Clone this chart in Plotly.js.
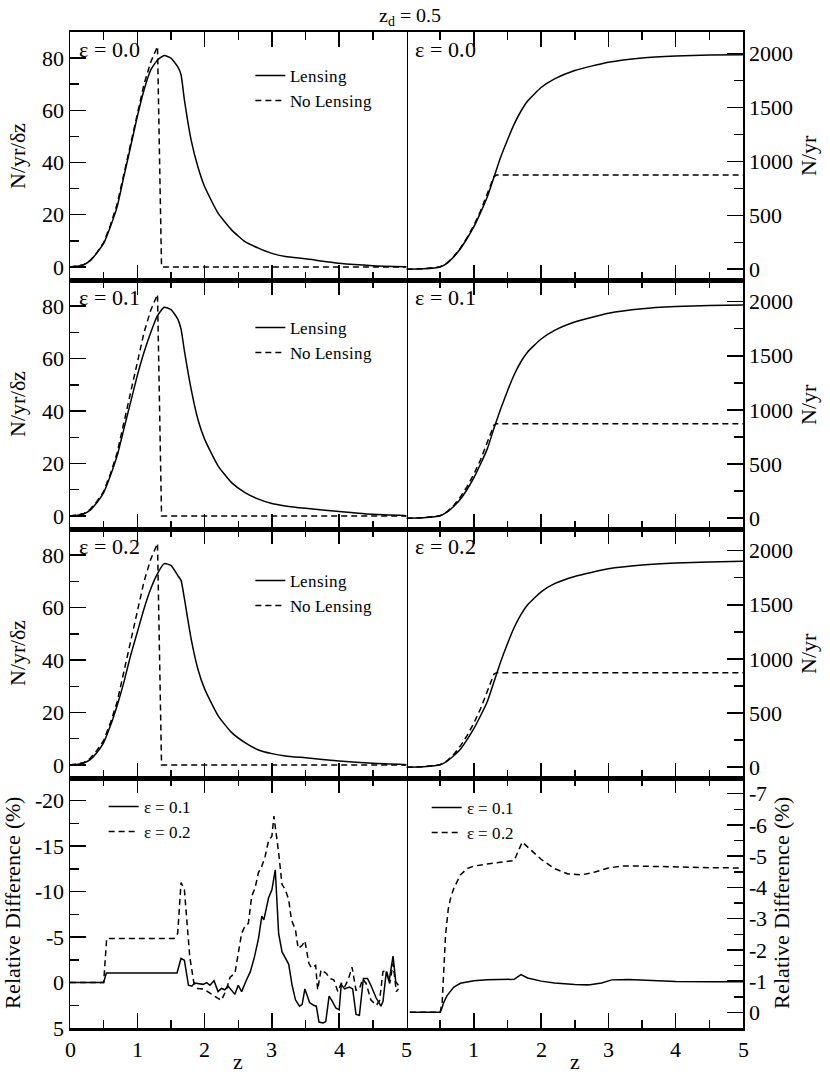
<!DOCTYPE html>
<html>
<head>
<meta charset="utf-8">
<script src="https://cdn.plot.ly/plotly-3.0.1.min.js"></script>
<style>
  @font-face {
    font-family: 'PaperSerif';
    src: local('Liberation Serif'), local('LiberationSerif'), local('LiberationSerif-Regular'), local('DejaVu Serif'), local('DejaVuSerif');
  }
  html, body { margin: 0; padding: 0; background: white; }
  #chart { width: 830px; height: 1074px; }
</style>
</head>
<body>
<div id="chart"></div>
<script>
// differential counts, N/yr/dz
const zDiff = [0, 0.1, 0.2, 0.3, 0.4, 0.5, 0.6, 0.7, 0.8, 0.9, 1.0, 1.1, 1.2, 1.3, 1.4, 1.5, 1.6, 1.65, 1.7, 1.8, 1.9, 2.0, 2.2, 2.4, 2.6, 2.8, 3.0, 3.2, 3.5, 4.0, 4.5, 5.0];
const diffE0 = [0, 0.3, 0.8, 2.4, 5.4, 9, 15.4, 23, 34.6, 46, 57.6, 67.8, 75.5, 79.3, 81, 80, 76.7, 73.6, 64, 48.6, 38.4, 30.8, 20.6, 14.2, 9.7, 7.2, 5.2, 4.0, 3.1, 1.4, 0.5, 0.1];
const diffE1 = [0, 0.2, 0.7, 2.2, 5.1, 8.9, 15.3, 22.9, 33.1, 43.3, 53.5, 62.4, 70, 76.4, 79.6, 78.7, 75.2, 71.3, 63, 48.4, 36.9, 29.3, 19.1, 12.7, 8.9, 6.4, 4.7, 3.8, 2.9, 1.7, 0.6, 0.1];
const diffE2 = [0, 0.2, 0.7, 2.0, 4.7, 8.5, 14.9, 22.6, 31.5, 41.7, 50.6, 59.6, 67.2, 73, 76.8, 76.1, 72.3, 70.4, 63.4, 48.1, 36.6, 29, 18.8, 12.4, 8.5, 5.7, 4.3, 3.4, 2.7, 1.5, 0.6, 0.1];
const zNoDiff = [0, 0.1, 0.2, 0.3, 0.4, 0.5, 0.6, 0.7, 0.8, 0.9, 1.0, 1.1, 1.2, 1.3, 1.36, 5.0];
const noDiff = [0, 0.3, 0.8, 2.5, 5.5, 9.3, 16, 24, 35.5, 47.5, 59.5, 70, 78.5, 84.5, 0, 0];

// cumulative counts, N/yr
const zCum = [0, 0.25, 0.5, 0.6, 0.7, 0.8, 0.9, 1.0, 1.1, 1.2, 1.3, 1.4, 1.5, 1.6, 1.7, 1.8, 2.0, 2.2, 2.5, 3.0, 3.5, 4.0, 4.5, 5.0];
const cumE0 = [0, 4, 21, 55, 114, 190, 285, 392, 525, 670, 855, 1040, 1198, 1345, 1465, 1560, 1685, 1765, 1843, 1920, 1960, 1978, 1987, 1990];
const cumE1 = [0, 4, 22, 55, 108, 175, 265, 372, 500, 640, 830, 1010, 1175, 1325, 1445, 1535, 1655, 1735, 1812, 1893, 1935, 1955, 1965, 1969];
const cumE2 = [0, 4, 22, 54, 105, 165, 255, 355, 475, 605, 790, 975, 1140, 1290, 1410, 1500, 1620, 1695, 1762, 1833, 1868, 1886, 1895, 1901];
const zNoCum = [0, 0.25, 0.5, 0.6, 0.7, 0.8, 0.9, 1.0, 1.1, 1.2, 1.3, 1.34, 5.0];
const noCum = [0, 4, 23, 57, 116, 195, 292, 405, 540, 695, 860, 873, 873];

// relative difference of differential counts (%)
const zRelD1 = [0, 0.5, 0.54, 1.59, 1.65, 1.7, 1.76, 1.81, 1.85, 1.9, 1.98, 2.03, 2.08, 2.14, 2.2, 2.25, 2.3, 2.35, 2.4, 2.45, 2.5, 2.55, 2.62, 2.68, 2.74, 2.8, 2.85, 2.88, 2.95, 3.0, 3.05, 3.1, 3.15, 3.2, 3.25, 3.3, 3.35, 3.41, 3.45, 3.49, 3.56, 3.62, 3.66, 3.7, 3.76, 3.8, 3.85, 3.9, 3.95, 4.0, 4.03, 4.08, 4.15, 4.2, 4.25, 4.3, 4.36, 4.42, 4.47, 4.55, 4.62, 4.65, 4.7, 4.74, 4.8, 4.84, 4.88];
const relD1 = [0, 0, -1.05, -1.05, -2.65, -2.45, 0.3, 0.4, 0.05, 0.1, 0.2, 0, 0.3, -0.2, 1.0, 0.65, 0.8, 0.4, 0.85, 1.3, 0.3, 1.0, -0.25, -1.2, -2.8, -4.8, -7.3, -6.9, -9.3, -10.2, -12.4, -5.4, -3.4, -2.7, -2.0, 0.3, 1.9, 2.6, 2.4, 0.7, 2.2, 2.5, 2.6, 4.35, 4.45, 4.3, 1.5, 2.1, 2.8, 3.0, 0.2, 0.7, 0.5, 0.7, 3.5, 3.6, -0.45, -0.45, 0.3, 1.7, 2.6, 2.1, -1.2, -0.1, -2.9, -0.1, 0.3];
const zRelD2 = [0, 0.5, 0.545, 1.545, 1.6, 1.65, 1.7, 1.75, 1.78, 1.84, 1.9, 1.98, 2.05, 2.13, 2.2, 2.25, 2.32, 2.38, 2.45, 2.5, 2.55, 2.6, 2.65, 2.7, 2.75, 2.8, 2.85, 2.9, 2.95, 3.0, 3.03, 3.1, 3.15, 3.2, 3.25, 3.29, 3.35, 3.39, 3.45, 3.49, 3.55, 3.59, 3.65, 3.68, 3.73, 3.77, 3.81, 3.86, 3.92, 3.98, 4.03, 4.08, 4.14, 4.19, 4.25, 4.3, 4.35, 4.4, 4.47, 4.55, 4.6, 4.65, 4.7, 4.75, 4.8, 4.85, 4.88];
const relD2 = [0, 0, -4.85, -4.85, -5.4, -11.0, -10.2, -5.8, -2.8, 0, 0.65, 0.7, 1.0, 1.4, 1.75, 1.95, 0.85, -0.6, -1.0, -3.4, -5.4, -6.2, -6.5, -9.5, -10.4, -12.1, -12.8, -13.9, -15.6, -16.1, -18.3, -14.3, -10.8, -10.2, -9.1, -6.9, -5.8, -3.75, -4.1, -4.6, -2.1, -1.6, -1.9, 0.8, -1.4, -1.2, -1.0, -0.45, -0.3, 1.0, 0.1, 0.5, -0.45, -1.7, 0.85, 0.7, -0.4, 0.1, 1.9, 2.5, 2.0, -1.2, -1.4, 0.1, -2.1, 1.0, 0.7];

// relative difference of cumulative counts (%)
const zRelC1 = [0.05, 0.5, 0.52, 0.55, 0.6, 0.65, 0.7, 0.8, 0.9, 1.0, 1.2, 1.4, 1.6, 1.7, 1.8, 2.0, 2.2, 2.5, 2.7, 2.9, 3.05, 3.3, 3.5, 4.0, 4.5, 5.0];
const relC1 = [0, 0, -0.1, -0.3, -0.53, -0.68, -0.8, -0.93, -0.98, -1.01, -1.04, -1.05, -1.06, -1.21, -1.1, -1.0, -0.94, -0.89, -0.88, -0.94, -1.04, -1.05, -1.03, -0.99, -0.98, -0.98];
const zRelC2 = [0.05, 0.5, 0.53, 0.55, 0.58, 0.62, 0.66, 0.7, 0.8, 0.9, 1.0, 1.2, 1.4, 1.6, 1.72, 1.8, 2.0, 2.2, 2.4, 2.6, 2.8, 3.0, 3.2, 3.5, 4.0, 4.5, 5.0];
const relC2 = [0, 0, -0.32, -1.2, -2.46, -3.3, -3.7, -3.95, -4.4, -4.6, -4.68, -4.75, -4.8, -4.86, -5.45, -5.3, -4.9, -4.6, -4.43, -4.4, -4.49, -4.62, -4.68, -4.68, -4.65, -4.63, -4.62];

const epsLabels = ['ε = 0.0', 'ε = 0.1', 'ε = 0.2'];

const FONT = 'PaperSerif, Liberation Serif, serif';
const solid = {color: 'black', width: 1.5};
const dashed = {color: 'black', width: 1.5, dash: '6px,4px'};
const smooth = Object.assign({shape: 'spline', smoothing: 0.5}, solid);

function line(x, y, ax, lineStyle, opts) {
  return Object.assign({
    x: x, y: y,
    xaxis: 'x' + (ax > 1 ? ax : ''),
    yaxis: 'y' + (ax > 1 ? ax : ''),
    type: 'scatter', mode: 'lines',
    line: lineStyle,
    showlegend: false,
    hoverinfo: 'skip'
  }, opts || {});
}

const data = [
  line(zDiff, diffE0, 1, smooth, {name: 'Lensing', showlegend: true, legend: 'legend'}),
  line(zNoDiff, noDiff, 1, dashed, {name: 'No Lensing', showlegend: true, legend: 'legend'}),
  line(zCum, cumE0, 2, smooth),
  line(zNoCum, noCum, 2, dashed),

  line(zDiff, diffE1, 3, smooth, {name: 'Lensing', showlegend: true, legend: 'legend2'}),
  line(zNoDiff, noDiff, 3, dashed, {name: 'No Lensing', showlegend: true, legend: 'legend2'}),
  line(zCum, cumE1, 4, smooth),
  line(zNoCum, noCum, 4, dashed),

  line(zDiff, diffE2, 5, smooth, {name: 'Lensing', showlegend: true, legend: 'legend3'}),
  line(zNoDiff, noDiff, 5, dashed, {name: 'No Lensing', showlegend: true, legend: 'legend3'}),
  line(zCum, cumE2, 6, smooth),
  line(zNoCum, noCum, 6, dashed),

  line(zRelD1, relD1, 7, solid, {name: 'ε = 0.1', showlegend: true, legend: 'legend4'}),
  line(zRelD2, relD2, 7, dashed, {name: 'ε = 0.2', showlegend: true, legend: 'legend4'}),
  line(zRelC1, relC1, 8, solid, {name: 'ε = 0.1', showlegend: true, legend: 'legend5'}),
  line(zRelC2, relC2, 8, dashed, {name: 'ε = 0.2', showlegend: true, legend: 'legend5'})
];

const rowDomains = [[0.751, 1], [0.501, 0.751], [0.251, 0.501], [0, 0.251]];
const colDomains = [[0, 0.5], [0.5, 1]];

function xAxis(i) {
  const row = Math.floor((i - 1) / 2);
  const col = (i - 1) % 2;
  const bottom = row === 3;
  const ax = {
    domain: colDomains[col],
    anchor: 'y' + (i > 1 ? i : ''),
    range: [0, 5],
    showgrid: false, zeroline: false,
    showline: true, linecolor: 'black', linewidth: 2.5,
    mirror: 'allticks',
    ticks: 'inside', ticklen: 15, tickwidth: 1.5, tickcolor: 'black',
    tickvals: col === 0 ? [0, 1, 2, 3, 4, 5] : [1, 2, 3, 4, 5],
    minor: {tickvals: [0.5, 1.5, 2.5, 3.5, 4.5], ticks: 'inside', ticklen: 8, tickwidth: 1.5, tickcolor: 'black'},
    showticklabels: bottom,
    tickfont: {family: FONT, size: 22, color: 'black'}
  };
  if (bottom) {
    ax.title = {text: 'z', font: {family: FONT, size: 22, color: 'black'}, standoff: 8};
  }
  return ax;
}

function yAxis(i) {
  const row = Math.floor((i - 1) / 2);
  const col = (i - 1) % 2;
  const ax = {
    domain: rowDomains[row],
    anchor: 'x' + (i > 1 ? i : ''),
    side: col === 0 ? 'left' : 'right',
    showgrid: false, zeroline: false,
    showline: true, linecolor: 'black', linewidth: 1.5,
    mirror: col === 0,
    ticks: 'inside', ticklen: 16, tickwidth: 1.5, tickcolor: 'black',
    tickfont: {family: FONT, size: 22, color: 'black'},
    title: {font: {family: FONT, size: 22, color: 'black'}, standoff: 10}
  };
  if (row < 3 && col === 0) {
    ax.range = [-5, 90];
    ax.tickvals = [0, 20, 40, 60, 80];
    ax.minor = {tickvals: [10, 30, 50, 70], ticks: 'inside', ticklen: 9, tickwidth: 1.5, tickcolor: 'black'};
    ax.title.text = 'N/yr/δz';
  } else if (row < 3) {
    ax.range = [-100, 2200];
    ax.tickvals = [0, 500, 1000, 1500, 2000];
    ax.minor = {tickvals: [250, 750, 1250, 1750], ticks: 'inside', ticklen: 9, tickwidth: 1.5, tickcolor: 'black'};
    ax.title.text = 'N/yr';
    ax.title.standoff = 8;
  } else if (col === 0) {
    ax.range = [5, -22.5];
    ax.tickvals = [5, 0, -5, -10, -15, -20];
    ax.ticktext = ['5', '0', '-5', '-10', '-15', '-20'];
    ax.minor = {tickvals: [2.5, -2.5, -7.5, -12.5, -17.5], ticks: 'inside', ticklen: 9, tickwidth: 1.5, tickcolor: 'black'};
    ax.title.text = 'Relative Difference (%)';
  } else {
    ax.range = [0.5, -7.5];
    ax.tickvals = [0, -1, -2, -3, -4, -5, -6, -7];
    ax.ticktext = ['0', '-1', '-2', '-3', '-4', '-5', '-6', '-7'];
    ax.minor = {tickvals: [-0.5, -1.5, -2.5, -3.5, -4.5, -5.5, -6.5], ticks: 'inside', ticklen: 9, tickwidth: 1.5, tickcolor: 'black'};
    ax.title.text = 'Relative Difference (%)';
    ax.title.standoff = 7;
  }
  return ax;
}

function legendAt(x, y) {
  return {
    x: x, y: y, xanchor: 'left', yanchor: 'top',
    bgcolor: 'rgba(0,0,0,0)', borderwidth: 0,
    font: {family: FONT, size: 17, color: 'black'},
    tracegroupgap: 0, itemwidth: 30
  };
}

const layout = {
  width: 830, height: 1074,
  margin: {l: 70, r: 87, t: 32, b: 46},
  paper_bgcolor: 'white',
  plot_bgcolor: 'white',
  font: {family: FONT, color: 'black'},
  title: {
    text: 'z<sub>d</sub> = 0.5',
    font: {family: FONT, size: 20, color: 'black'},
    xref: 'container', yref: 'container',
    x: 0.494, xanchor: 'center',
    y: 0.986, yanchor: 'middle'
  },
  legend: legendAt(0.268, 0.974),
  legend2: legendAt(0.268, 0.721),
  legend3: legendAt(0.268, 0.467),
  legend4: legendAt(0.05, 0.24),
  legend5: legendAt(0.53, 0.239),
  annotations: [],
  showlegend: true
};

for (let i = 1; i <= 8; i++) {
  layout['xaxis' + (i > 1 ? i : '')] = xAxis(i);
  layout['yaxis' + (i > 1 ? i : '')] = yAxis(i);
}

// epsilon labels in the top three rows
for (let r = 0; r < 3; r++) {
  for (let c = 0; c < 2; c++) {
    const i = r * 2 + c + 1;
    const id = i > 1 ? i : '';
    layout.annotations.push({
      text: epsLabels[r],
      xref: 'x' + id + ' domain', yref: 'y' + id + ' domain',
      x: 0.02, y: 0.93, xanchor: 'left', yanchor: 'middle',
      showarrow: false,
      font: {family: FONT, size: 22, color: 'black'}
    });
  }
}

Plotly.newPlot('chart', data, layout, {staticPlot: true});
</script>
</body>
</html>
